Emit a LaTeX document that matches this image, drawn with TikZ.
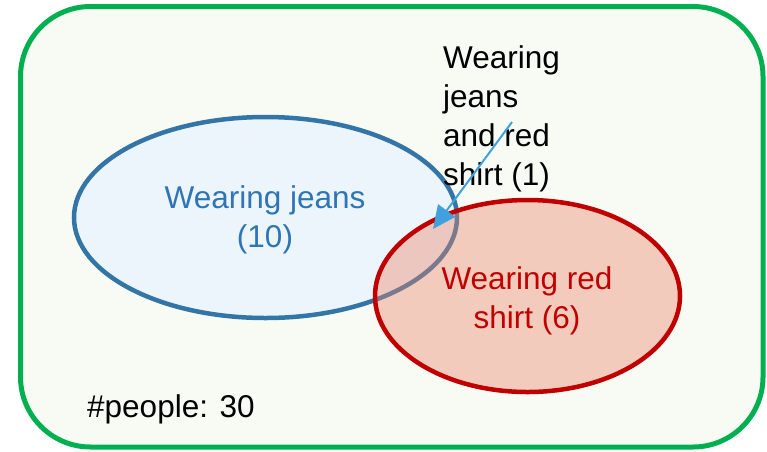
\documentclass[tikz,border=0pt]{standalone}
\usepackage{fontspec}
\setmainfont{Liberation Sans}
\usetikzlibrary{shapes.geometric,arrows.meta}
\definecolor{panelbg}{RGB}{248,251,244}
\definecolor{panelgreen}{RGB}{0,176,80}
\definecolor{jeansline}{RGB}{50,117,166}
\definecolor{jeansfill}{RGB}{237,245,252}
\definecolor{jeanstext}{RGB}{46,117,182}
\definecolor{shirtline}{RGB}{192,0,0}
\definecolor{shirtfill}{RGB}{233,131,104}
\definecolor{pointer}{RGB}{65,160,222}
\tikzset{
  label font/.style={font=\fontsize{31.5}{39.5}\selectfont},
  set/.style={ellipse, inner sep=0pt, line width=4.5pt},
}
\begin{document}
\begin{tikzpicture}[x=1pt,y=-1pt]
\useasboundingbox (0,0) rectangle (767,451);
% universe
\draw[panelgreen, line width=5pt, fill=panelbg, rounded corners=70pt]
  (20.5,6.5) rectangle (763,447);
% the two sets
\node[set, draw=jeansline, fill=jeansfill, minimum width=383pt, minimum height=201pt]
  (jeans) at (265.5,217.5) {};
\node[set, draw=shirtline, fill=shirtfill, fill opacity=0.4,
      minimum width=305pt, minimum height=192pt]
  (shirt) at (527.5,296) {};
% labels
\node[label font, text=jeanstext, align=center] (jeanslbl) at (265,220)
  {Wearing jeans\\(10)};
\node[label font, text=shirtline, align=center] (shirtlbl) at (527,301)
  {Wearing red\\shirt (6)};
\node[label font, font=\fontsize{31.5}{39}\selectfont, align=left, anchor=north west,
      inner sep=0pt] (bothlbl) at (443,45)
  {Wearing\\jeans\\and red\\shirt (1)};
\node[label font, anchor=base west, inner sep=0pt] (total) at (87,417) {\#people: 30};
% pointer into the overlap
\coordinate (from) at (512,122);
\coordinate (overlap) at (433,229);
\draw[pointer, line width=2pt, -{Triangle[length=23pt,width=21pt]}] (from) -- (overlap);
\end{tikzpicture}
\end{document}
